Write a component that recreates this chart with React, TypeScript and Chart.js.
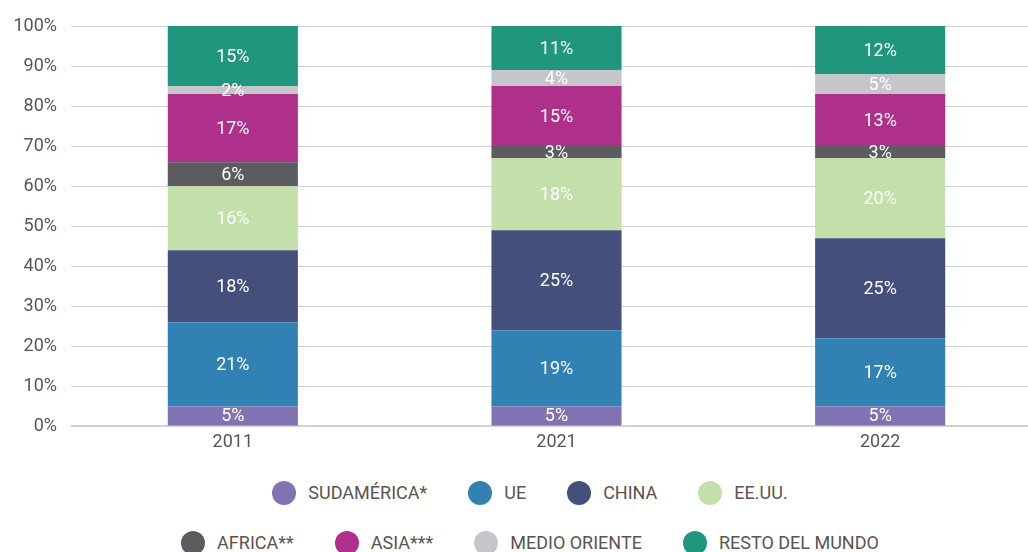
import React, { useEffect, useRef } from "react";
import { Chart, registerables } from "chart.js";

Chart.register(...registerables);

const years = ["2011", "2021", "2022"];
const seriesNames = ["SUDAMÉRICA*", "UE", "CHINA", "EE.UU.", "AFRICA**", "ASIA***", "MEDIO ORIENTE", "RESTO DEL MUNDO"];
const sudamerica = [5, 5, 5];
const ue = [21, 19, 17];
const china = [18, 25, 25];
const eeuu = [16, 18, 20];
const africa = [6, 3, 3];
const asia = [17, 15, 13];
const medioOriente = [2, 4, 5];
const resto = [15, 11, 12];
const seriesValues = [sudamerica, ue, china, eeuu, africa, asia, medioOriente, resto];
const seriesColors = ["#8172b2", "#3281b5", "#454f7c", "#c3dfaa", "#5c5b60", "#ae308b", "#c5c6c9", "#20967f"];
const yTicks = [0, 10, 20, 30, 40, 50, 60, 70, 80, 90, 100];

const FONT = "Roboto, 'Noto Sans', sans-serif";
const TEXT = "#5b5351";

const labelPlugin = {
  id: "segLabels",
  afterDatasetsDraw(chart: any) {
    const ctx = chart.ctx;
    ctx.save();
    ctx.fillStyle = "#ffffff";
    ctx.font = `18px ${FONT}`;
    ctx.textAlign = "center";
    ctx.textBaseline = "middle";
    chart.data.datasets.forEach((ds: any, di: number) => {
      const meta = chart.getDatasetMeta(di);
      meta.data.forEach((el: any, i: number) => {
        const v = ds.data[i];
        const y = (el.y + el.base) / 2;
        ctx.fillText(`${v}%`, el.x, y + 1);
      });
    });
    ctx.restore();
  },
};

export default function App() {
  const ref = useRef<HTMLCanvasElement>(null);
  useEffect(() => {
    if (!ref.current) return;
    const chart = new Chart(ref.current, {
      type: "bar",
      data: {
        labels: years,
        datasets: seriesNames.map((name, i) => ({
          label: name,
          data: seriesValues[i],
          backgroundColor: seriesColors[i],
          borderWidth: 0,
          categoryPercentage: 1,
          barPercentage: 0.402,
        })),
      },
      options: {
        animation: false,
        responsive: false,
        maintainAspectRatio: false,
        layout: { padding: { top: 26, bottom: 8, left: 0, right: 0 } },
        plugins: { legend: { display: false }, tooltip: { enabled: false } },
        scales: {
          x: {
            stacked: true,
            grid: { display: false, drawTicks: false },
            border: { display: false },
            ticks: { color: TEXT, font: { family: FONT, size: 18 }, padding: 5 },
          },
          y: {
            stacked: true,
            min: 0,
            max: 100,
            afterFit: (s: any) => {
              s.width = 71;
            },
            afterBuildTicks: (s: any) => {
              s.ticks = yTicks.map((v) => ({ value: v }));
            },
            grid: {
              drawTicks: false,
              color: "#d2d2d2",
              lineWidth: (c: any) => (c.tick && c.tick.value === 0 ? 2 : 1),
            },
            border: { display: false },
            ticks: {
              color: TEXT,
              font: { family: FONT, size: 18 },
              padding: 14,
              callback: (v: any) => `${v}%`,
            },
          },
        },
      },
      plugins: [labelPlugin],
    });
    return () => chart.destroy();
  }, []);

  const rows = [
    [0, 1, 2, 3],
    [4, 5, 6, 7],
  ];

  return (
    <div style={{ position: "fixed", left: 0, top: 0, width: 1028, height: 552, overflow: "hidden", background: "#fff" }}>
      <canvas ref={ref} width={1042} height={466} style={{ position: "absolute", left: 0, top: 0, width: 1042, height: 466 }} />
      {rows.map((row, ri) => (
        <div
          key={ri}
          style={{
            position: "absolute",
            left: 16,
            width: 1028,
            top: ri === 0 ? 481 : 531,
            height: 24,
            display: "flex",
            justifyContent: "center",
            alignItems: "center",
            gap: 41,
            fontFamily: FONT,
            fontSize: 18,
            color: TEXT,
            whiteSpace: "nowrap",
          }}
        >
          {row.map((si) => (
            <div key={si} style={{ display: "flex", alignItems: "center", gap: 12 }}>
              <span style={{ width: 24, height: 24, borderRadius: "50%", background: seriesColors[si], display: "inline-block" }} />
              <span style={{ lineHeight: "24px" }}>{seriesNames[si]}</span>
            </div>
          ))}
        </div>
      ))}
    </div>
  );
}
